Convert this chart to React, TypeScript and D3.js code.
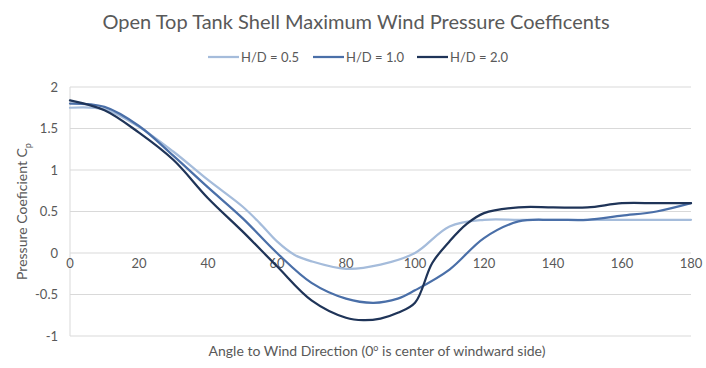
import React, { useEffect, useRef } from 'react'
import * as d3 from 'd3'

// angle (deg) / pressure coefficient pairs
const hd05: [number, number][] = [
  [0, 1.75], [10, 1.73], [20, 1.52], [30, 1.22], [40, 0.88], [50, 0.56], [55, 0.36],
  [60, 0.14], [65, -0.02], [70, -0.1], [80, -0.19], [90, -0.14], [100, 0.0],
  [110, 0.32], [120, 0.4], [130, 0.4], [140, 0.4], [150, 0.4], [160, 0.4], [170, 0.4], [180, 0.4],
]
const hd10: [number, number][] = [
  [0, 1.8], [10, 1.76], [20, 1.53], [30, 1.17], [40, 0.79], [50, 0.42], [60, 0.0],
  [70, -0.36], [80, -0.55], [88, -0.6], [95, -0.55], [100, -0.45], [110, -0.2],
  [120, 0.18], [130, 0.38], [140, 0.4], [150, 0.4], [160, 0.45], [170, 0.5], [180, 0.6],
]
const hd20: [number, number][] = [
  [0, 1.84], [10, 1.72], [20, 1.45], [30, 1.12], [40, 0.66], [50, 0.26], [60, -0.16],
  [70, -0.57], [80, -0.78], [85, -0.81], [90, -0.79], [95, -0.72], [100, -0.6],
  [105, -0.12], [110, 0.14], [115, 0.35], [120, 0.48], [130, 0.55], [140, 0.55],
  [150, 0.55], [160, 0.6], [170, 0.6], [180, 0.6],
]

const seriesNames = ['H/D = 0.5', 'H/D = 1.0', 'H/D = 2.0']
const seriesColors = ['#a5bcdb', '#4a6fa8', '#1f3458']
const xTicks = [0, 20, 40, 60, 80, 100, 120, 140, 160, 180]
const yTicks = [-1, -0.5, 0, 0.5, 1, 1.5, 2]

const FONT = 'Lato, "Open Sans", sans-serif'

export default function App() {
  const svgRef = useRef<SVGSVGElement>(null)

  useEffect(() => {
    if (!svgRef.current) return
    const svg = d3.select(svgRef.current)
    svg.selectAll('*').remove()

    const W = 706
    const H = 368
    const margin = { top: 87, right: 15, bottom: 32, left: 70 }

    svg.attr('width', W).attr('height', H)
    svg.append('rect').attr('width', W).attr('height', H).attr('fill', '#fff')

    const x = d3.scaleLinear().domain([0, 180]).range([margin.left, W - margin.right])
    const y = d3.scaleLinear().domain([-1, 2]).range([H - margin.bottom, margin.top])

    // gridlines
    svg.append('g')
      .selectAll('line')
      .data(yTicks)
      .enter().append('line')
      .attr('x1', x(0))
      .attr('x2', x(180))
      .attr('y1', d => y(d))
      .attr('y2', d => y(d))
      .attr('stroke', '#d9d9d9')
      .attr('stroke-width', 1)

    // left axis line
    svg.append('line')
      .attr('x1', x(0)).attr('x2', x(0))
      .attr('y1', y(2)).attr('y2', y(-1))
      .attr('stroke', '#d9d9d9')

    // y tick labels
    svg.append('g')
      .selectAll('text')
      .data(yTicks)
      .enter().append('text')
      .attr('x', x(0) - 12)
      .attr('y', d => y(d))
      .attr('dy', '0.35em')
      .attr('text-anchor', 'end')
      .attr('fill', '#595959')
      .style('font-family', FONT)
      .style('font-size', '13px')
      .text(d => String(d))

    // x tick labels (axis crosses at 0)
    svg.append('g')
      .selectAll('text')
      .data(xTicks)
      .enter().append('text')
      .attr('x', d => x(d))
      .attr('y', y(0) + 15)
      .attr('text-anchor', 'middle')
      .attr('fill', '#595959')
      .style('font-family', FONT)
      .style('font-size', '13px')
      .text(d => String(d))

    // lines
    const line = d3.line<[number, number]>()
      .x(d => x(d[0]))
      .y(d => y(d[1]))
      .curve(d3.curveCatmullRom.alpha(0.5))

    const all = [hd05, hd10, hd20]
    all.forEach((s, i) => {
      svg.append('path')
        .datum(s)
        .attr('fill', 'none')
        .attr('stroke', seriesColors[i])
        .attr('stroke-width', 2.25)
        .attr('stroke-linejoin', 'round')
        .attr('stroke-linecap', 'round')
        .attr('d', line)
    })

    // title
    svg.append('text')
      .attr('x', 356)
      .attr('y', 29)
      .attr('text-anchor', 'middle')
      .attr('fill', '#595959')
      .style('font-family', FONT)
      .style('font-size', '20px')
      .text('Open Top Tank Shell Maximum Wind Pressure Coefficents')

    // legend
    const legendX = [208, 313, 417]
    seriesNames.forEach((name, i) => {
      const g = svg.append('g').attr('transform', `translate(${legendX[i]},57)`)
      g.append('line')
        .attr('x1', 0).attr('x2', 31)
        .attr('y1', 0).attr('y2', 0)
        .attr('stroke', seriesColors[i])
        .attr('stroke-width', 2.25)
      g.append('text')
        .attr('x', 33)
        .attr('y', 0)
        .attr('dy', '0.35em')
        .attr('fill', '#595959')
        .style('font-family', FONT)
        .style('font-size', '13px')
        .text(name)
    })

    // y axis title
    const yt = svg.append('text')
      .attr('transform', `translate(27,${(y(2) + y(-1)) / 2}) rotate(-90)`)
      .attr('text-anchor', 'middle')
      .attr('fill', '#595959')
      .style('font-family', FONT)
      .style('font-size', '14px')
    yt.append('tspan').text('Pressure Coeficient C')
    yt.append('tspan').attr('dy', 4).style('font-size', '9px').text('p')

    // x axis title
    const xt = svg.append('text')
      .attr('x', 377)
      .attr('y', 356)
      .attr('text-anchor', 'middle')
      .attr('fill', '#595959')
      .style('font-family', FONT)
      .style('font-size', '14px')
    xt.append('tspan').text('Angle to Wind Direction (0')
    xt.append('tspan').attr('dy', -5).style('font-size', '9px').text('o')
    xt.append('tspan').attr('dy', 5).text(' is center of windward side)')
  }, [])

  return (
    <div style={{ position: 'fixed', left: 0, top: 0, width: 706, height: 368, overflow: 'hidden' }}>
      <svg ref={svgRef} style={{ display: 'block' }}></svg>
    </div>
  )
}
